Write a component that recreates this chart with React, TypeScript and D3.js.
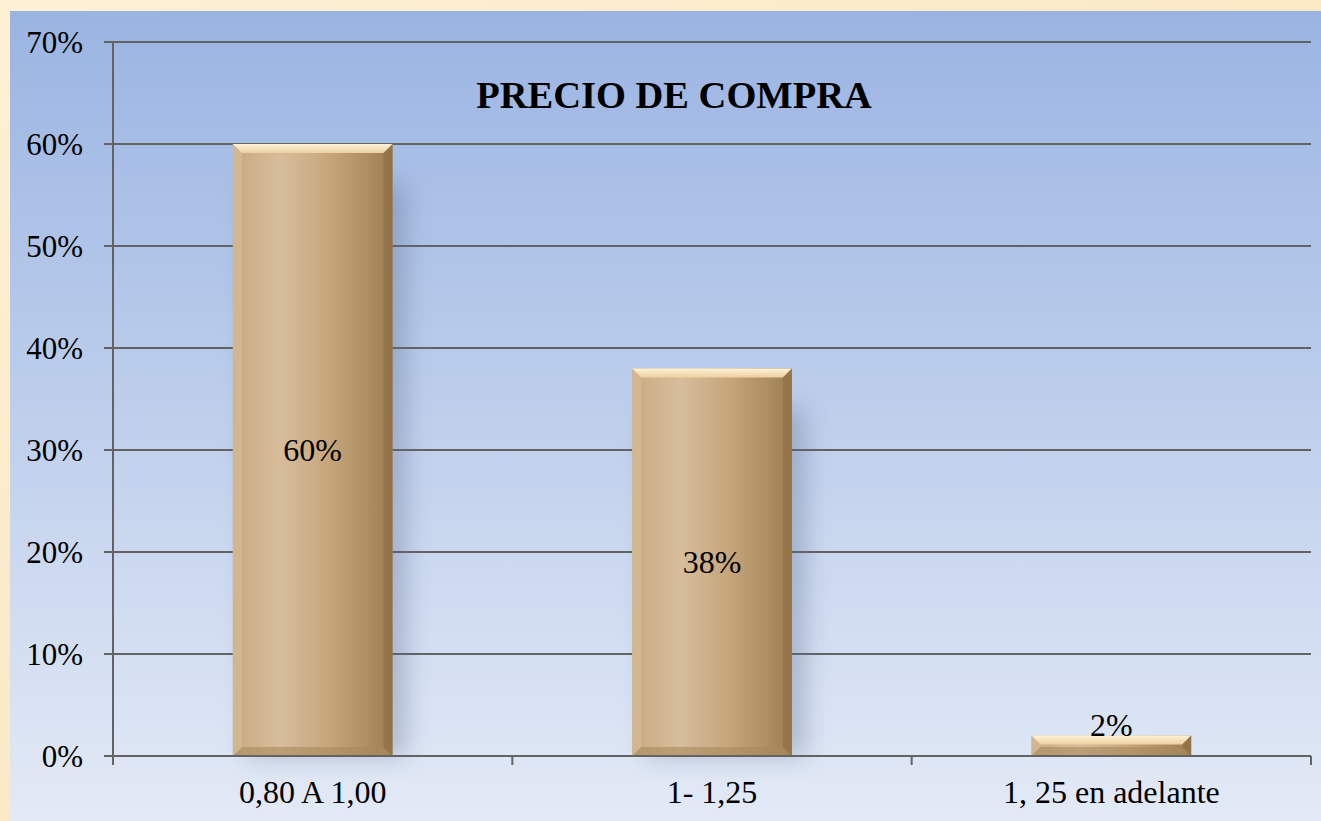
import React from "react";
import * as d3 from "d3";

const categories = ["0,80 A 1,00", "1- 1,25", "1, 25 en adelante"];
const values = [0.6, 0.38, 0.02];
const valueLabels = ["60%", "38%", "2%"];
const yTicks = [0, 0.1, 0.2, 0.3, 0.4, 0.5, 0.6, 0.7];

const W = 1321;
const H = 821;
const margin = { top: 42, right: 10, bottom: 65, left: 113 };
const txt: React.CSSProperties = { fontFamily: "Liberation Serif, DejaVu Serif, serif" };

export default function App() {
  const innerW = W - margin.left - margin.right;
  const innerH = H - margin.top - margin.bottom;

  const x = d3.scaleBand().domain(categories).range([0, innerW]).padding(0);
  const y = d3.scaleLinear().domain([0, 0.7]).range([innerH, 0]);
  const bw = x.bandwidth();
  const barW = bw * 0.4;

  return (
    <svg width={W} height={H} style={{ position: "absolute", left: 0, top: 0 }}>
      <defs>
        <linearGradient id="paper" x1="0" y1="0" x2="1" y2="1">
          <stop offset="0" stopColor="#fdf0d4" />
          <stop offset="0.5" stopColor="#fbe9c6" />
          <stop offset="1" stopColor="#fdf1d8" />
        </linearGradient>
        <linearGradient id="panel" x1="0" y1="0" x2="0" y2="1">
          <stop offset="0" stopColor="#9ab4e2" />
          <stop offset="1" stopColor="#e3eaf6" />
        </linearGradient>
        <linearGradient id="barFill" x1="0" y1="0" x2="1" y2="0">
          <stop offset="0" stopColor="#c9aa80" />
          <stop offset="0.3" stopColor="#d6bd9b" />
          <stop offset="0.6" stopColor="#c7a67c" />
          <stop offset="1" stopColor="#9d7e52" />
        </linearGradient>
        <linearGradient id="bevelTop" x1="0" y1="0" x2="0" y2="1">
          <stop offset="0" stopColor="#fff3d6" />
          <stop offset="1" stopColor="#ecd0a2" />
        </linearGradient>
        <filter id="blur" x="-50%" y="-10%" width="200%" height="120%">
          <feGaussianBlur stdDeviation="12" />
        </filter>
      </defs>

      <rect x={0} y={0} width={W} height={H} fill="url(#paper)" />
      <rect x={10} y={11} width={W - 10} height={H - 11} fill="url(#panel)" />

      <g transform={`translate(${margin.left},${margin.top})`}>
        {yTicks.map((t) => (
          <g key={t}>
            <line x1={-9} x2={innerW} y1={y(t)} y2={y(t)} stroke="#636363" strokeWidth={2} />
            <text x={-30} y={y(t)} dy="0.35em" textAnchor="end" style={txt} fontSize={31} fill="#000">
              {d3.format(".0%")(t)}
            </text>
          </g>
        ))}
        <line x1={0} x2={0} y1={y(0.7)} y2={innerH + 9} stroke="#636363" strokeWidth={2} />

        {categories.map((c, i) => (
          <rect
            key={"s" + c}
            x={x(c)! + bw * 0.3 + 14}
            y={y(values[i]) + 40}
            width={barW}
            height={innerH - y(values[i]) - 40}
            fill="#5a6a8a"
            opacity={0.35}
            filter="url(#blur)"
          />
        ))}

        {categories.map((c, i) => {
          const bx = x(c)! + bw * 0.3;
          const by = y(values[i]);
          const bh = innerH - by;
          const bev = Math.min(9, bh / 2);
          return (
            <g key={c}>
              <rect x={bx} y={by} width={barW} height={bh} fill="url(#barFill)" />
              <polygon
                points={`${bx},${by} ${bx + barW},${by} ${bx + barW - bev},${by + bev} ${bx + bev},${by + bev}`}
                fill="url(#bevelTop)"
              />
              <polygon
                points={`${bx},${by + bh} ${bx + barW},${by + bh} ${bx + barW - bev},${by + bh - bev} ${bx + bev},${by + bh - bev}`}
                fill="#a88a5e"
                opacity={0.6}
              />
              <polygon
                points={`${bx + barW},${by} ${bx + barW},${by + bh} ${bx + barW - bev},${by + bh - bev} ${bx + barW - bev},${by + bev}`}
                fill="#8a6c44"
                opacity={0.55}
              />
              <polygon
                points={`${bx},${by} ${bx},${by + bh} ${bx + bev},${by + bh - bev} ${bx + bev},${by + bev}`}
                fill="#dcc3a0"
                opacity={0.45}
              />
            </g>
          );
        })}

        <line x1={0} x2={innerW} y1={innerH} y2={innerH} stroke="#636363" strokeWidth={2} />
        {[...categories.map((c) => x(c)!), innerW].map((tx, i) => (
          <line key={"t" + i} x1={tx} x2={tx} y1={innerH} y2={innerH + 9} stroke="#636363" strokeWidth={2} />
        ))}
        {categories.map((c) => (
          <text key={"l" + c} x={x(c)! + bw / 2} y={innerH + 47} textAnchor="middle" style={txt} fontSize={32} fill="#000">
            {c}
          </text>
        ))}

        {categories.map((c, i) => {
          const by = y(values[i]);
          const bh = innerH - by;
          const inside = bh > 40;
          return (
            <text
              key={"v" + c}
              x={x(c)! + bw / 2}
              y={inside ? by + bh / 2 : by}
              dy={inside ? "0.35em" : "0em"}
              textAnchor="middle"
              style={txt}
              fontSize={32}
              fill="#000"
            >
              {valueLabels[i]}
            </text>
          );
        })}

        <text
          x={x(categories[1])! + bw / 2 - 38}
          y={66}
          textAnchor="middle"
          style={txt}
          fontSize={38.5}
          fontWeight="bold"
          fill="#000"
        >
          PRECIO DE COMPRA
        </text>
      </g>
    </svg>
  );
}
